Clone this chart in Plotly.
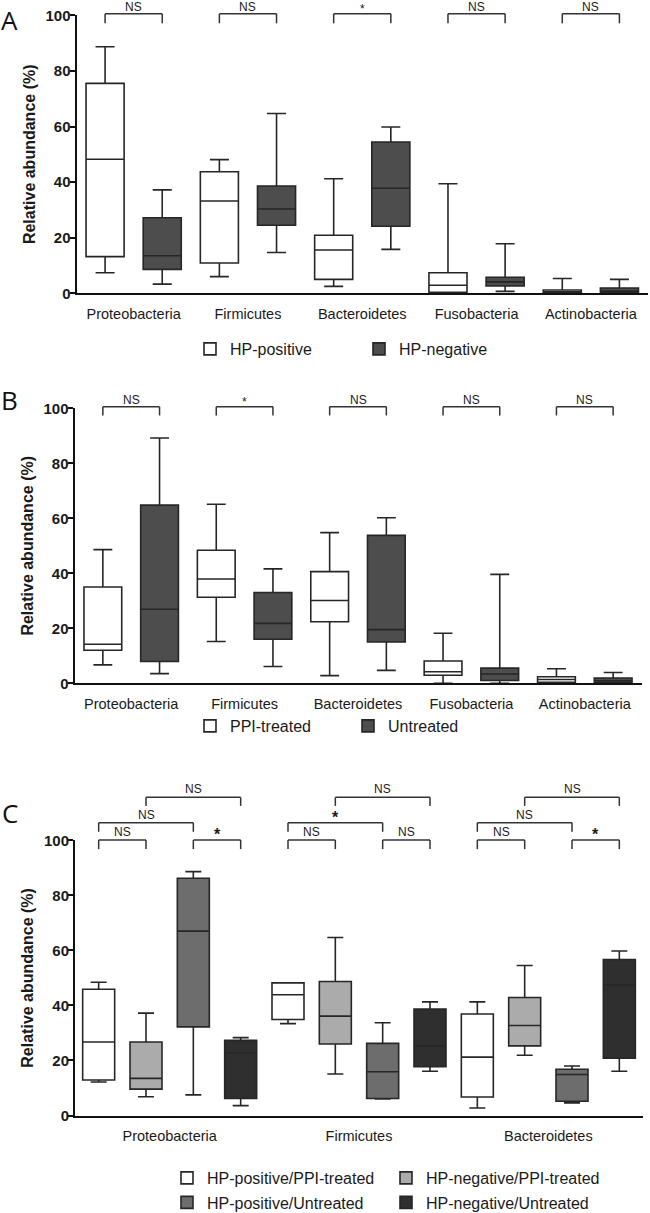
import plotly.graph_objects as go

# ---------------- DATA ----------------
# Panel A: HP-positive vs HP-negative
A_cats = ["Proteobacteria", "Firmicutes", "Bacteroidetes", "Fusobacteria", "Actinobacteria"]
A_pos_low = [7.4, 6.0, 2.5, 0.0, 0.0]
A_pos_q1 = [13.2, 10.9, 5.0, 0.4, 0.1]
A_pos_med = [48.2, 33.2, 15.6, 2.9, 0.5]
A_pos_q3 = [75.5, 43.7, 20.9, 7.4, 1.2]
A_pos_high = [88.7, 48.1, 41.2, 39.4, 5.3]
A_neg_low = [3.3, 14.7, 15.8, 0.7, 0.0]
A_neg_q1 = [8.6, 24.5, 24.1, 2.6, 0.3]
A_neg_med = [13.5, 30.3, 37.8, 4.1, 0.8]
A_neg_q3 = [27.2, 38.6, 54.4, 5.8, 1.9]
A_neg_high = [37.2, 64.7, 59.8, 17.8, 5.0]
A_sig = ["NS", "NS", "*", "NS", "NS"]

# Panel B: PPI-treated vs Untreated
B_cats = ["Proteobacteria", "Firmicutes", "Bacteroidetes", "Fusobacteria", "Actinobacteria"]
B_ppi_low = [6.7, 15.2, 2.8, 0.0, 0.0]
B_ppi_q1 = [12.0, 31.3, 22.4, 2.9, 0.4]
B_ppi_med = [14.2, 37.9, 30.1, 4.2, 1.4]
B_ppi_q3 = [35.0, 48.4, 40.6, 8.1, 2.4]
B_ppi_high = [48.6, 65.1, 54.8, 18.2, 5.3]
B_unt_low = [3.5, 6.1, 4.7, 0.0, 0.0]
B_unt_q1 = [7.9, 16.0, 15.0, 1.0, 0.3]
B_unt_med = [26.9, 21.8, 19.5, 3.4, 0.9]
B_unt_q3 = [64.8, 33.0, 53.8, 5.5, 1.9]
B_unt_high = [89.2, 41.6, 60.2, 39.6, 3.9]
B_sig = ["NS", "*", "NS", "NS", "NS"]

# Panel C: four HP / PPI combinations
C_cats = ["Proteobacteria", "Firmicutes", "Bacteroidetes"]
C_pp_low = [12.2, 33.4, 2.7]
C_pp_q1 = [12.9, 34.9, 6.7]
C_pp_med = [26.7, 43.9, 21.2]
C_pp_q3 = [45.9, 48.2, 36.9]
C_pp_high = [48.4, 48.2, 41.3]
C_np_low = [6.8, 15.1, 21.9]
C_np_q1 = [9.6, 26.0, 25.3]
C_np_med = [13.5, 36.1, 32.7]
C_np_q3 = [26.7, 48.7, 42.9]
C_np_high = [37.2, 64.7, 54.5]
C_pu_low = [7.5, 6.0, 4.6]
C_pu_q1 = [32.2, 6.2, 5.2]
C_pu_med = [67.0, 15.9, 14.9]
C_pu_q3 = [86.2, 26.2, 16.8]
C_pu_high = [88.6, 33.7, 18.0]
C_nu_low = [3.6, 16.1, 16.1]
C_nu_q1 = [6.2, 17.7, 20.8]
C_nu_med = [22.7, 25.3, 47.5]
C_nu_q3 = [27.3, 38.7, 56.7]
C_nu_high = [28.3, 41.3, 59.8]
# comparisons: (group i, group j, bracket level, label) per category
C_sig = [
    [(0, 1, 1, "NS"), (0, 2, 2, "NS"), (1, 3, 3, "NS"), (2, 3, 1, "*")],
    [(0, 1, 1, "NS"), (0, 2, 2, "*"), (1, 3, 3, "NS"), (2, 3, 1, "NS")],
    [(0, 1, 1, "NS"), (0, 2, 2, "NS"), (1, 3, 3, "NS"), (2, 3, 1, "*")],
]

# ---------------- STYLE ----------------
W, H = 650, 1213
ML, MR = 74, 2
PW = W - ML - MR
FONT = "Liberation Sans, Arial, sans-serif"
LINE = "#262626"
TXT = "#1a1a1a"
WHITE, DARK_AB = "#ffffff", "#4d4d4d"
C_FILLS = ["#ffffff", "#ababab", "#6d6d6d", "#2f2f2f"]

AB_OFF = [-0.25, 0.25]          # two boxes per category
AB_W = 0.333
C_OFF = [-0.375, -0.125, 0.125, 0.375]   # four boxes per category
C_W = 0.169


def px_x(px):
    return (px - ML) / PW


def px_y(px):
    return 1 - px / H


def box(name, cats, off, width, low, q1, med, q3, high, fill, xa, ya, legend):
    pos = [i + off for i in range(len(cats))]
    return go.Box(
        name=name, x=pos, lowerfence=low, q1=q1, median=med, q3=q3, upperfence=high,
        width=width, fillcolor=fill, line=dict(color=LINE, width=1.6), whiskerwidth=0.5,
        boxpoints=False, xaxis=xa, yaxis=ya, legend=legend,
    )


fig = go.Figure()
fig.add_trace(box("HP-positive", A_cats, AB_OFF[0], AB_W, A_pos_low, A_pos_q1, A_pos_med, A_pos_q3, A_pos_high, WHITE, "x", "y", "legend"))
fig.add_trace(box("HP-negative", A_cats, AB_OFF[1], AB_W, A_neg_low, A_neg_q1, A_neg_med, A_neg_q3, A_neg_high, DARK_AB, "x", "y", "legend"))
fig.add_trace(box("PPI-treated", B_cats, AB_OFF[0], AB_W, B_ppi_low, B_ppi_q1, B_ppi_med, B_ppi_q3, B_ppi_high, WHITE, "x2", "y2", "legend2"))
fig.add_trace(box("Untreated", B_cats, AB_OFF[1], AB_W, B_unt_low, B_unt_q1, B_unt_med, B_unt_q3, B_unt_high, DARK_AB, "x2", "y2", "legend2"))
fig.add_trace(box("HP-positive/PPI-treated", C_cats, C_OFF[0], C_W, C_pp_low, C_pp_q1, C_pp_med, C_pp_q3, C_pp_high, C_FILLS[0], "x3", "y3", "legend3"))
fig.add_trace(box("HP-negative/PPI-treated", C_cats, C_OFF[1], C_W, C_np_low, C_np_q1, C_np_med, C_np_q3, C_np_high, C_FILLS[1], "x3", "y3", "legend3"))
fig.add_trace(box("HP-positive/Untreated", C_cats, C_OFF[2], C_W, C_pu_low, C_pu_q1, C_pu_med, C_pu_q3, C_pu_high, C_FILLS[2], "x3", "y3", "legend4"))
fig.add_trace(box("HP-negative/Untreated", C_cats, C_OFF[3], C_W, C_nu_low, C_nu_q1, C_nu_med, C_nu_q3, C_nu_high, C_FILLS[3], "x3", "y3", "legend4"))

# axes: domains from pixel positions
panels = [
    # (suffix, x px range, y px top (100), y px bottom (0), categories)
    ("", (76.5, 648), 15.3, 293.3, A_cats),
    ("2", (74.5, 641.5), 408.3, 683.3, B_cats),
    ("3", (75, 643), 840.3, 1115.5, C_cats),
]
for suf, (x0, x1), ytop, ybot, cats in panels:
    n = len(cats)
    fig.update_layout({
        "xaxis" + suf: dict(
            domain=[px_x(x0), px_x(x1)], anchor="y" + suf,
            range=[-0.5, n - 0.5], tickvals=list(range(n)), ticktext=cats,
            showline=True, linecolor="#111", linewidth=2,
            ticks="", ticklen=0, showgrid=False, zeroline=False, fixedrange=True,
            tickfont=dict(family=FONT, size=14.5, color=TXT), ticklabelstandoff=6,
        ),
        "yaxis" + suf: dict(
            domain=[px_y(ybot), px_y(ytop)], anchor="x" + suf, range=[0, 100],
            tickvals=[0, 20, 40, 60, 80, 100], ticks="outside", ticklen=5, tickwidth=2,
            tickcolor="#111", showline=True, linecolor="#111", linewidth=2,
            showgrid=False, zeroline=False, fixedrange=True, ticklabelstandoff=-4,
            tickfont=dict(family=FONT, size=15, color=TXT, weight="bold"),
            title=dict(text="Relative abundance (%)", standoff=6,
                       font=dict(family=FONT, size=16, color=TXT, weight="bold")),
        ),
    })

shapes, annos = [], []


def bracket(xa, ya, xl, xr, yh, yb, label, ylab, size, bold=False):
    dom = ya + " domain"
    for (a, b, c, d) in [(xl, yb, xl, yh), (xl, yh, xr, yh), (xr, yh, xr, yb)]:
        shapes.append(dict(type="line", xref=xa, yref=dom, x0=a, y0=b, x1=c, y1=d,
                           line=dict(color="#333", width=1.5)))
    annos.append(dict(text=label, xref=xa, yref=dom, x=(xl + xr) / 2, y=ylab,
                      showarrow=False, yanchor="middle",
                      font=dict(family=FONT, size=size, color=TXT,
                                weight="bold" if bold else "normal")))


# A & B: two groups
for i, lab in enumerate(A_sig):
    bracket("x", "y", i + AB_OFF[0], i + AB_OFF[1], 1.006, 0.971, lab,
            1.029 if lab != "*" else 1.022, 12)
for i, lab in enumerate(B_sig):
    bracket("x2", "y2", i + AB_OFF[0], i + AB_OFF[1], 1.006, 0.974, lab,
            1.031 if lab != "*" else 1.024, 12)

# C: four groups
C_lvl = {1: (1.001, 0.968, 1.031), 2: (1.064, 1.031, 1.093), 3: (1.156, 1.125, 1.187)}
for i, comps in enumerate(C_sig):
    for (g1, g2, lvl, lab) in comps:
        yh, yb, yl = C_lvl[lvl]
        star = lab == "*"
        bracket("x3", "y3", i + C_OFF[g1], i + C_OFF[g2], yh, yb, lab,
                yl - 0.01 if star else yl, 16 if star else 12, bold=star)

# panel letters (top edge of each text box)
for letter, (lx, ly) in {"A": (9, 0), "B": (9.5, 380), "C": (10, 793)}.items():
    annos.append(dict(text=letter, xref="paper", yref="paper", x=px_x(lx), y=px_y(ly),
                      showarrow=False, xanchor="center", yanchor="top",
                      font=dict(family="Open Sans, sans-serif", size=26, color="#111")))

legend_font = dict(family=FONT, size=16, color=TXT)


def legend(x_px, y_px, entry):
    return dict(orientation="h", x=px_x(x_px), y=px_y(y_px), xanchor="left",
                yanchor="middle", entrywidth=entry, entrywidthmode="pixels",
                font=legend_font, bgcolor="rgba(0,0,0,0)", borderwidth=0,
                itemclick=False, itemdoubleclick=False)


fig.update_layout(
    width=W, height=H,
    margin=dict(l=ML, r=MR, t=0, b=0, autoexpand=False),
    paper_bgcolor="white", plot_bgcolor="white",
    showlegend=True,
    legend=legend(190, 349, 124),
    legend2=legend(190, 726, 113),
    legend3=legend(167, 1178, 174),
    legend4=legend(167, 1202.5, 174),
    shapes=shapes, annotations=annos,
    font=dict(family=FONT, color=TXT),
)

fig.write_html("out.html", config={"displayModeBar": False},
               post_script="document.body.style.margin='0px';")
